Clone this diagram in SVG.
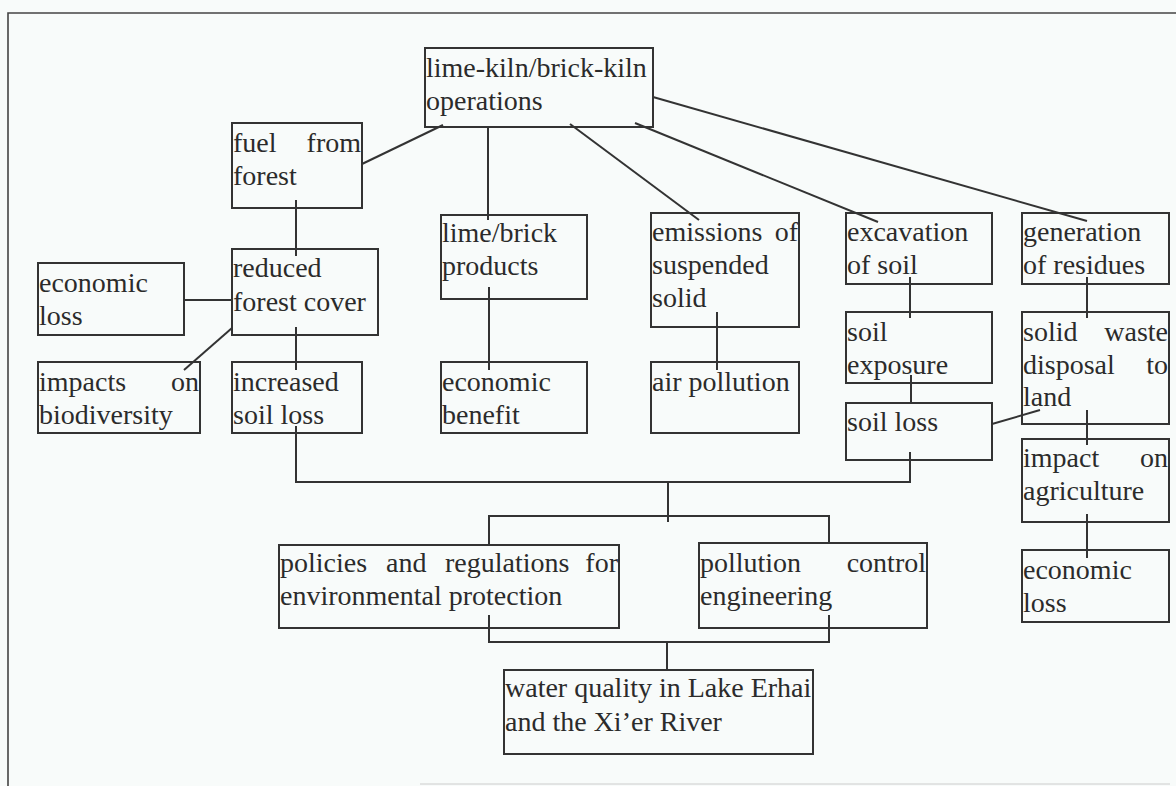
<svg xmlns="http://www.w3.org/2000/svg" width="1176" height="786" viewBox="0 0 1176 786">
<style>
.bg{fill:#f8fbfa}
.frame{fill:none;stroke:#444;stroke-width:1.6}
.box{fill:none;stroke:#333;stroke-width:2}
.c{fill:none;stroke:#333;stroke-width:2}
text{font-family:"Liberation Serif","Times New Roman",serif;font-size:28px;fill:#2b2b2b}
.e{text-anchor:end}
</style>
<rect class="bg" x="0" y="0" width="1176" height="786"/>
<g id="frame">
<path class="frame" d="M8,786 V13 H1176"/>
<path d="M420,784 H1170" stroke="#ccc" stroke-width="1" fill="none"/>
</g>
<g id="connectors">
<line class="c" x1="362" y1="164" x2="443" y2="125"/>
<line class="c" x1="488" y1="127" x2="488" y2="220"/>
<line class="c" x1="570" y1="124" x2="699" y2="220"/>
<line class="c" x1="635" y1="123" x2="878" y2="222"/>
<line class="c" x1="653" y1="97" x2="1087" y2="221"/>
<line class="c" x1="296" y1="200" x2="296" y2="256"/>
<line class="c" x1="184" y1="300" x2="233" y2="300"/>
<line class="c" x1="232" y1="328" x2="184" y2="370"/>
<line class="c" x1="296" y1="327" x2="296" y2="370"/>
<line class="c" x1="489" y1="287" x2="489" y2="370"/>
<line class="c" x1="717" y1="312" x2="717" y2="370"/>
<line class="c" x1="910" y1="277" x2="910" y2="318"/>
<line class="c" x1="911" y1="375" x2="911" y2="403"/>
<line class="c" x1="1087" y1="277" x2="1087" y2="318"/>
<line class="c" x1="992" y1="424" x2="1040" y2="410"/>
<line class="c" x1="1087" y1="410" x2="1087" y2="445"/>
<line class="c" x1="1087" y1="514" x2="1087" y2="558"/>
<path class="c" d="M296,426 V482 H910 V452"/>
<line class="c" x1="668" y1="482" x2="668" y2="522"/>
<path class="c" d="M489,545 V516 H829 V543"/>
<path class="c" d="M489,615 V642 H829 V615"/>
<line class="c" x1="667" y1="642" x2="667" y2="670"/>
</g>
<g id="n-kiln"><rect class="box" x="425" y="48" width="228" height="79"/><text x="426" y="77">lime-kiln/brick-kiln</text><text x="426" y="110">operations</text></g>
<g id="n-fuel"><rect class="box" x="232" y="123" width="130" height="85"/><text x="233" y="152">fuel</text><text class="e" x="361" y="152">from</text><text x="233" y="185">forest</text></g>
<g id="n-lime"><rect class="box" x="441" y="215" width="146" height="84"/><text x="442" y="242">lime/brick</text><text x="442" y="275">products</text></g>
<g id="n-emis"><rect class="box" x="651" y="213" width="148" height="114"/><text x="652" y="241">emissions</text><text class="e" x="798" y="241">of</text><text x="652" y="274">suspended</text><text x="652" y="307">solid</text></g>
<g id="n-excav"><rect class="box" x="846" y="213" width="146" height="71"/><text x="847" y="241">excavation</text><text x="847" y="274">of soil</text></g>
<g id="n-gen"><rect class="box" x="1022" y="213" width="147" height="71"/><text x="1023" y="241">generation</text><text x="1023" y="274">of residues</text></g>
<g id="n-econloss1"><rect class="box" x="38" y="263" width="146" height="72"/><text x="39" y="292">economic</text><text x="39" y="325">loss</text></g>
<g id="n-reduced"><rect class="box" x="232" y="249" width="146" height="86"/><text x="233" y="277">reduced</text><text x="233" y="311">forest cover</text></g>
<g id="n-biodiv"><rect class="box" x="38" y="362" width="162" height="71"/><text x="39" y="391">impacts</text><text class="e" x="199" y="391">on</text><text x="39" y="424">biodiversity</text></g>
<g id="n-incsoil"><rect class="box" x="232" y="362" width="130" height="71"/><text x="233" y="391">increased</text><text x="233" y="424">soil loss</text></g>
<g id="n-benefit"><rect class="box" x="441" y="362" width="146" height="71"/><text x="442" y="391">economic</text><text x="442" y="424">benefit</text></g>
<g id="n-air"><rect class="box" x="651" y="362" width="148" height="71"/><text x="652" y="391">air pollution</text></g>
<g id="n-exposure"><rect class="box" x="846" y="312" width="146" height="71"/><text x="847" y="341">soil</text><text x="847" y="374">exposure</text></g>
<g id="n-waste"><rect class="box" x="1022" y="312" width="147" height="112"/><text x="1023" y="341">solid</text><text class="e" x="1168" y="341">waste</text><text x="1023" y="374">disposal</text><text class="e" x="1168" y="374">to</text><text x="1023" y="406">land</text></g>
<g id="n-soilloss"><rect class="box" x="846" y="403" width="146" height="57"/><text x="847" y="431">soil loss</text></g>
<g id="n-agri"><rect class="box" x="1022" y="439" width="147" height="83"/><text x="1023" y="467">impact</text><text class="e" x="1168" y="467">on</text><text x="1023" y="500">agriculture</text></g>
<g id="n-econloss2"><rect class="box" x="1022" y="550" width="147" height="72"/><text x="1023" y="579">economic</text><text x="1023" y="612">loss</text></g>
<g id="n-policies"><rect class="box" x="279" y="545" width="340" height="83"/><text x="280" y="572">policies</text><text x="386" y="572">and</text><text x="445" y="572">regulations</text><text class="e" x="618" y="572">for</text><text x="280" y="605">environmental protection</text></g>
<g id="n-pollution"><rect class="box" x="699" y="543" width="228" height="85"/><text x="700" y="572">pollution</text><text class="e" x="926" y="572">control</text><text x="700" y="605">engineering</text></g>
<g id="n-water"><rect class="box" x="504" y="670" width="309" height="84"/><text x="505" y="697">water quality in Lake Erhai</text><text x="505" y="731">and the Xi’er River</text></g>
</svg>
